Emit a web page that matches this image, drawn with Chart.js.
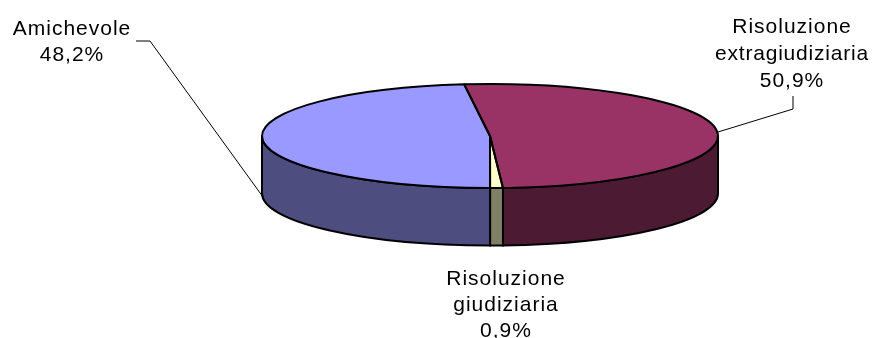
<!DOCTYPE html>
<html>
<head>
<meta charset="utf-8">
<style>
    body { margin: 0; background: #fff; }
    canvas { display: block; }
</style>
<script src="https://cdn.jsdelivr.net/npm/chart.js@4"></script>
</head>
<body>
<canvas id="pie" width="874" height="338"></canvas>
<script>
const categories = ['Risoluzione extragiudiziaria', 'Risoluzione giudiziaria', 'Amichevole'];
const values = [50.9, 0.9, 48.2];
const topColors = ['#993366', '#FFFFCC', '#9999FF'];
const sideColors = ['#4D1A33', '#808066', '#4D4D80'];

// squash factor and wall height of the fake 3d pie
const squash = 52 / 228;
const depth = 57.5;

// label layout, same order as categories
const labelBoxes = [
    { x: 792, y: 33, step: 27, lines: ['Risoluzione', 'extragiudiziaria'], spacing: [1, 0.8, 1] },
    { x: 506, y: 285, step: 26, lines: ['Risoluzione', 'giudiziaria'], spacing: [1, 1, 1] },
    { x: 72, y: 35, step: 26, lines: ['Amichevole'], spacing: [1, 1] }
];
const leaders = [
    [[793, 96], [793, 109], [718, 132]],
    [[136, 41], [150, 41], [263, 197]]
];

function topArcs(chart) {
    return chart.getDatasetMeta(0).data;
}

const pie3d = {
    id: 'pie3d',
    beforeDatasetsDraw(chart) {
        const ctx = chart.ctx;
        ctx.save();
        ctx.lineWidth = 2;
        ctx.strokeStyle = '#000';
        // front walls first, top goes over them
        topArcs(chart).forEach((arc, i) => {
            const lo = Math.max(arc.startAngle, 0);
            const hi = Math.min(arc.endAngle, Math.PI);
            if (hi <= lo) return;
            const r = arc.outerRadius;
            const ry = r * squash;
            ctx.beginPath();
            ctx.ellipse(arc.x, arc.y, r, ry, 0, lo, hi);
            ctx.ellipse(arc.x, arc.y + depth, r, ry, 0, hi, lo, true);
            ctx.closePath();
            ctx.fillStyle = sideColors[i];
            ctx.fill();
            ctx.stroke();
        });
        ctx.restore();

        const first = topArcs(chart)[0];
        ctx.save();
        ctx.translate(first.x, first.y);
        ctx.scale(1, squash);
        ctx.translate(-first.x, -first.y);
    },
    afterDatasetsDraw(chart) {
        const ctx = chart.ctx;
        ctx.restore();

        // outlines here so the line width is not squashed too
        ctx.save();
        ctx.lineWidth = 2;
        ctx.strokeStyle = '#000';
        ctx.lineJoin = 'round';
        topArcs(chart).forEach((arc) => {
            ctx.beginPath();
            ctx.moveTo(arc.x, arc.y);
            ctx.ellipse(arc.x, arc.y, arc.outerRadius, arc.outerRadius * squash, 0, arc.startAngle, arc.endAngle);
            ctx.closePath();
            ctx.stroke();
        });
        ctx.restore();

        ctx.save();
        ctx.lineWidth = 1;
        ctx.strokeStyle = '#000';
        leaders.forEach((pts) => {
            ctx.beginPath();
            pts.forEach((p, j) => j ? ctx.lineTo(p[0], p[1]) : ctx.moveTo(p[0], p[1]));
            ctx.stroke();
        });

        ctx.fillStyle = '#000';
        ctx.font = '21px "Liberation Sans"';
        ctx.textAlign = 'center';
        ctx.textBaseline = 'alphabetic';
        labelBoxes.forEach((box, i) => {
            const rows = box.lines.concat(values[i].toFixed(1).replace('.', ',') + '%');
            rows.forEach((row, j) => {
                ctx.letterSpacing = box.spacing[j] + 'px';
                ctx.fillText(row, box.x, box.y + j * box.step);
            });
        });
        ctx.restore();
    }
};

new Chart(document.getElementById('pie').getContext('2d'), {
    type: 'pie',
    data: {
        labels: categories,
        datasets: [{
            data: values,
            backgroundColor: topColors,
            borderWidth: 0
        }]
    },
    options: {
        responsive: false,
        animation: false,
        rotation: -6.5,
        radius: 228,
        layout: { padding: { left: 106, bottom: 66 } },
        plugins: {
            legend: { display: false },
            tooltip: { enabled: false }
        }
    },
    plugins: [pie3d]
});
</script>
</body>
</html>
